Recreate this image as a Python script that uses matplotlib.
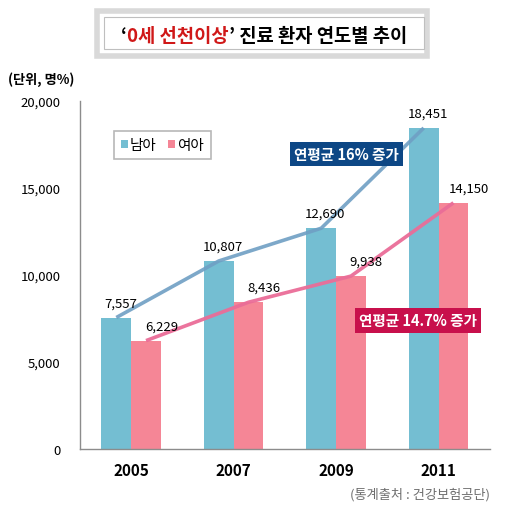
import matplotlib

matplotlib.use("Agg")

import matplotlib.pyplot as plt
from matplotlib.patches import Rectangle
import numpy as np

plt.rcParams["font.family"] = ["Noto Sans CJK KR", "DejaVu Sans"]

years = ["2005", "2007", "2009", "2011"]
boys = [7557, 10807, 12690, 18451]
girls = [6229, 8436, 9938, 14150]
yticks = [0, 5000, 10000, 15000, 20000]

BOY_COLOR = "#74bed2"
GIRL_COLOR = "#f58696"

fig = plt.figure(figsize=(5.06, 5.10), dpi=100)
ax = fig.add_axes([0.158, 0.1176, 0.81, 0.6824])

x = np.arange(len(years))
w = 0.29
b1 = ax.bar(x - w / 2, boys, w, color=BOY_COLOR, zorder=2)
b2 = ax.bar(x + w / 2, girls, w, color=GIRL_COLOR, zorder=2)

# trend lines through the bar tops
ax.plot(x - w / 2, boys, color="#6f9fc4", lw=2.6, alpha=0.9, zorder=3,
        solid_capstyle="butt")
ax.plot(x + w / 2, girls, color="#ea6d98", lw=2.6, alpha=0.95, zorder=3,
        solid_capstyle="butt")

for xi, v in zip(x, boys):
    ax.annotate(f"{v:,}", (xi - w / 2, v), xytext=(3, 6), textcoords="offset points",
                ha="center", va="bottom", fontsize=9.5, zorder=4)
for xi, v in zip(x, girls):
    ax.annotate(f"{v:,}", (xi + w / 2, v), xytext=(11, 6), textcoords="offset points",
                ha="center", va="bottom", fontsize=9.5, zorder=4)

ax.set_xlim(-0.5, len(years) - 0.5)
ax.set_ylim(0, 20000)
ax.set_yticks(yticks)
ax.set_yticklabels([f"{t:,}" for t in yticks], fontsize=9.5)
ax.set_xticks(x)
ax.set_xticklabels(years, fontsize=11, fontweight="bold")
ax.tick_params(axis="both", length=0, pad=9)
ax.tick_params(axis="y", pad=14)
for s in ["top", "right"]:
    ax.spines[s].set_visible(False)
for s in ["left", "bottom"]:
    ax.spines[s].set_color("#8c8c8c")
    ax.spines[s].set_linewidth(1.0)

# legend with small square swatches
leg = ax.legend([b1, b2], ["남아", "여아"], loc="upper left",
                bbox_to_anchor=(0.065, 0.935),
                ncol=2, frameon=True, fancybox=False, fontsize=10.5,
                handlelength=0.45, handleheight=0.45, handletextpad=0.15,
                columnspacing=0.8, borderpad=0.5)
leg.get_frame().set_edgecolor("#a6a6a6")
leg.get_frame().set_linewidth(1.2)

# growth callouts
ax.text(2.1, 16950, "연평균 16% 증가", color="white", fontsize=10.5, fontweight="bold",
        ha="center", va="center", zorder=5,
        bbox=dict(boxstyle="square,pad=0.3", fc="#0d4785", ec="none"))
ax.text(2.8, 7400, "연평균 14.7% 증가", color="white", fontsize=10.5, fontweight="bold",
        ha="center", va="center", zorder=5,
        bbox=dict(boxstyle="square,pad=0.3", fc="#c8104c", ec="none"))

fig.text(8 / 506, 1 - 80 / 510, "(단위, 명%)", fontsize=9.5, fontweight="bold",
         va="center", ha="left")
fig.text(490 / 506, 1 - 495 / 510, "(통계출처 : 건강보험공단)", fontsize=9.5,
         color="#6e6e6e", va="center", ha="right")

# title box
fig.patches.append(Rectangle((97 / 506, 1 - 57 / 510), 330 / 506, 45 / 510,
                             transform=fig.transFigure, fill=False,
                             ec="#d9d9d9", lw=4))
fig.patches.append(Rectangle((104 / 506, 1 - 50 / 510), 320 / 506, 32 / 510,
                             transform=fig.transFigure, fill=False,
                             ec="#bfbfbf", lw=0.8))

pieces = [("‘", "black"), ("0세 선천이상", "#d01818"), ("’ 진료 환자 연도별 추이", "black")]
renderer = fig.canvas.get_renderer()
texts = []
total = 0
for s, c in pieces:
    t = fig.text(0, 1 - 36 / 510, s, color=c, fontsize=13.5, fontweight="bold",
                 va="center", ha="left")
    bb = t.get_window_extent(renderer)
    texts.append((t, bb.width))
    total += bb.width
cur = 264 - total / 2
for t, wd in texts:
    t.set_x(cur / 506)
    cur += wd

fig.savefig("out.png", dpi=100)
plt.close(fig)
